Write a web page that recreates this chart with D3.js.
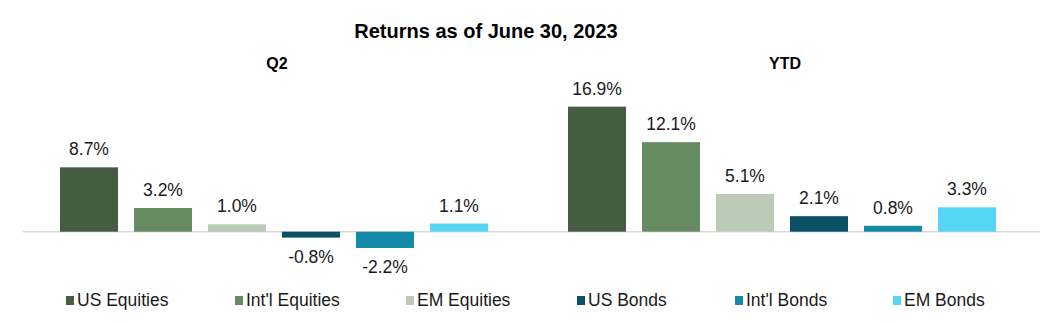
<!DOCTYPE html>
<html><head><meta charset="utf-8">
<script src="https://cdn.jsdelivr.net/npm/d3@7"></script>
<style>body{margin:0;background:#fff}svg{display:block}text{font-family:"Liberation Sans",Arial,sans-serif}</style>
</head><body>
<svg id="c" width="1062" height="323"></svg>
<script>
const categories = ["Q2", "YTD"];
const seriesNames = ["US Equities", "Int'l Equities", "EM Equities", "US Bonds", "Int'l Bonds", "EM Bonds"];
const q2Values = [8.7, 3.2, 1.0, -0.8, -2.2, 1.1];
const ytdValues = [16.9, 12.1, 5.1, 2.1, 0.8, 3.3];
const colors = ["#475d43", "#668a61", "#bccab8", "#0b5166", "#1589a8", "#57d5f6"];
const legendX = [66, 235, 406, 577, 735, 893];

const valuesByCat = {"Q2": q2Values, "YTD": ytdValues};
const svg = d3.select("#c");

const x0 = d3.scaleBand().domain(categories).range([20, 1036]);
const groupPad = (x0.bandwidth() - 428) / 2;
const x1 = d3.scaleBand().domain(seriesNames).range([groupPad, x0.bandwidth() - groupPad]).paddingInner(0.216);
const y = d3.scaleLinear().domain([-3, 18]).range([253.9, 98.5]);

svg.append("text").attr("x", 486).attr("y", 38).attr("text-anchor", "middle")
  .attr("font-weight", "bold").attr("font-size", "20px").attr("fill", "#000")
  .text("Returns as of June 30, 2023");

svg.selectAll(".cat").data(categories).enter().append("text")
  .attr("x", d => x0(d) + x0.bandwidth() / 2 + 3).attr("y", 69)
  .attr("text-anchor", "middle").attr("font-weight", "bold").attr("font-size", "16px").attr("fill", "#000")
  .text(d => d);

svg.append("line").attr("x1", 23).attr("x2", 1040).attr("y1", y(0)).attr("y2", y(0))
  .attr("stroke", "#d9d9d9").attr("stroke-width", 1.5);

const fmt = v => (v < 0 ? "-" : "") + Math.abs(v).toFixed(1) + "%";

categories.forEach(cat => {
  const g = svg.append("g").attr("transform", `translate(${x0(cat)},0)`);
  const data = seriesNames.map((s, i) => ({s, i, v: valuesByCat[cat][i]}));
  g.selectAll("rect").data(data).enter().append("rect")
    .attr("x", d => x1(d.s)).attr("width", x1.bandwidth())
    .attr("y", d => Math.min(y(d.v), y(0)))
    .attr("height", d => Math.abs(y(d.v) - y(0)))
    .attr("fill", d => colors[d.i]);
  g.selectAll("text").data(data).enter().append("text")
    .attr("x", d => x1(d.s) + x1.bandwidth() / 2)
    .attr("y", d => d.v >= 0 ? y(d.v) - 12 : y(d.v) + 25)
    .attr("text-anchor", "middle").attr("font-size", "17.5px").attr("fill", "#1a1a1a")
    .text(d => fmt(d.v));
});

const leg = svg.selectAll(".leg").data(seriesNames).enter().append("g")
  .attr("transform", (d, i) => `translate(${legendX[i]},0)`);
leg.append("rect").attr("x", 0).attr("y", 296).attr("width", 8).attr("height", 9)
  .attr("fill", (d, i) => colors[i]);
leg.append("text").attr("x", 11).attr("y", 306).attr("font-size", "17.5px").attr("fill", "#1a1a1a")
  .text(d => d);
</script>
</body></html>
